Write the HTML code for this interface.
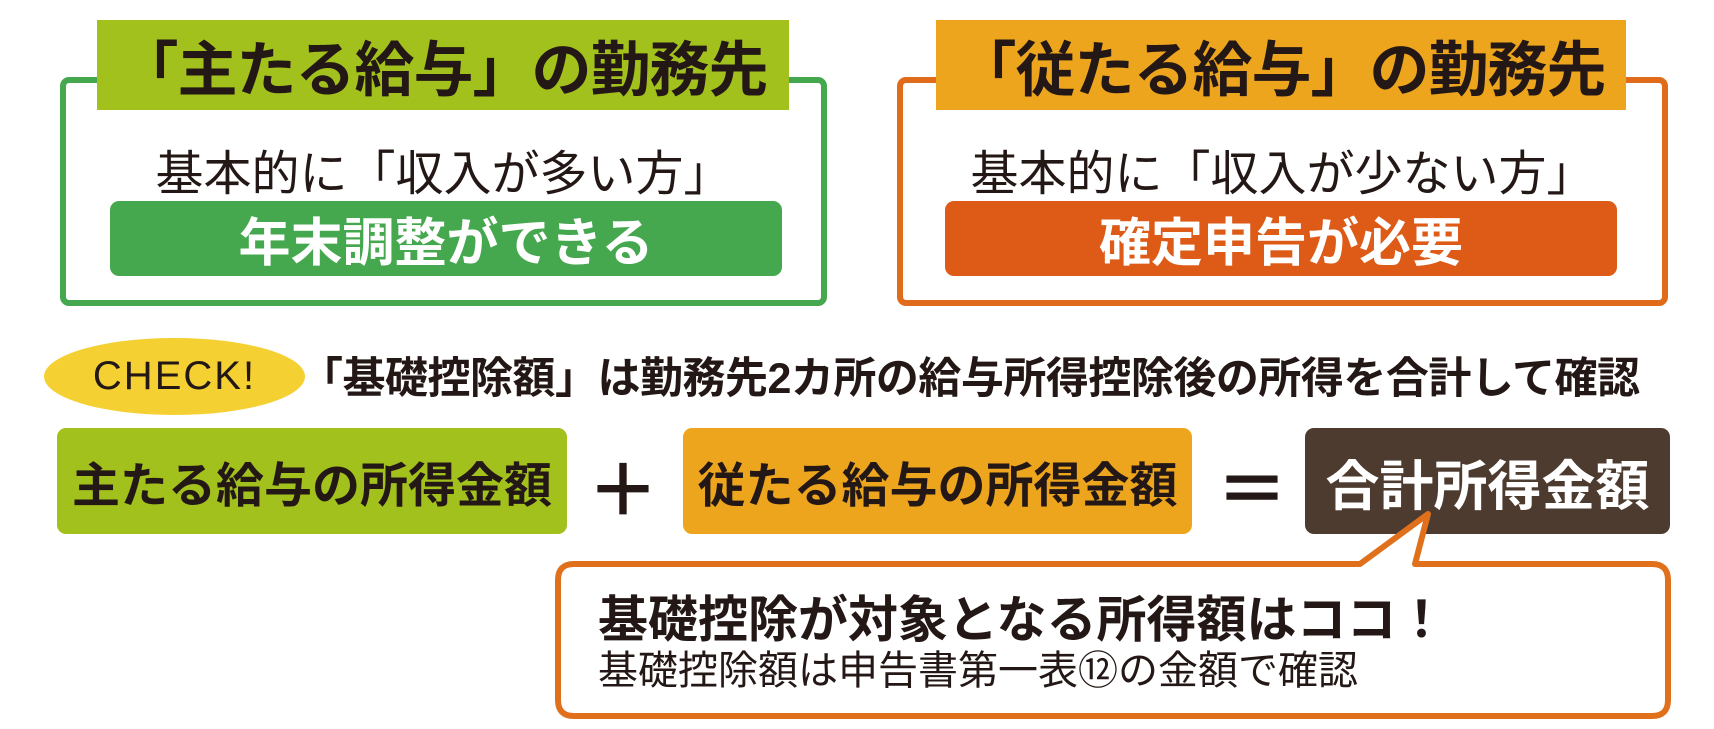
<!DOCTYPE html>
<html><head><meta charset="utf-8"><style>
body{margin:0;width:1714px;height:729px;background:#fff;position:relative;overflow:hidden;font-family:"Liberation Sans","Noto Sans CJK JP",sans-serif;color:#231815}
div{position:absolute;box-sizing:border-box}
.c{display:flex;align-items:center;justify-content:center;white-space:nowrap}
</style></head><body>
<div style="left:60px;top:77px;width:767px;height:229px;border:6px solid #45a84f;border-radius:9px"></div>
<div class="c" style="left:97px;top:20px;width:692px;height:90px;background:#a3c11d;font-size:60px;font-weight:bold;letter-spacing:-1px">「主たる給与」の勤務先</div>
<div class="c" style="left:60px;top:141px;width:767px;height:55px;font-size:48px">基本的に「収入が多い方」</div>
<div class="c" style="left:110px;top:201px;width:672px;height:75px;background:#45a84f;border-radius:9px;color:#fff;font-size:52px;font-weight:bold">年末調整ができる</div>

<div style="left:897px;top:77px;width:771px;height:229px;border:6px solid #e06b1b;border-radius:9px"></div>
<div class="c" style="left:936px;top:20px;width:690px;height:90px;background:#eda51e;font-size:60px;font-weight:bold;letter-spacing:-1px">「従たる給与」の勤務先</div>
<div class="c" style="left:897px;top:141px;width:771px;height:55px;font-size:48px">基本的に「収入が少ない方」</div>
<div class="c" style="left:945px;top:201px;width:672px;height:75px;background:#dd5a17;border-radius:9px;color:#fff;font-size:52px;font-weight:bold">確定申告が必要</div>

<div class="c" style="left:44px;top:338px;width:261px;height:77px;background:#f5d033;border-radius:50%;font-size:40px;letter-spacing:2px;font-weight:500">CHECK!</div>
<div style="left:300px;top:350px;font-size:43px;font-weight:bold;white-space:nowrap;line-height:58px;letter-spacing:-0.5px">「基礎控除額」は勤務先2カ所の給与所得控除後の所得を合計して確認</div>

<div class="c" style="left:57px;top:428px;width:510px;height:106px;background:#a3c11d;border-radius:9px;font-size:48px;font-weight:bold">主たる給与の所得金額</div>
<div class="c" style="left:588px;top:440px;width:70px;height:88px;font-size:72px;font-weight:bold">＋</div>
<div class="c" style="left:683px;top:428px;width:509px;height:106px;background:#eda51e;border-radius:9px;font-size:48px;font-weight:bold">従たる給与の所得金額</div>
<div class="c" style="left:1217px;top:440px;width:70px;height:88px;font-size:72px;font-weight:bold">＝</div>
<div class="c" style="left:1305px;top:428px;width:365px;height:106px;background:#4e3b30;border-radius:9px;color:#fff;font-size:54px;font-weight:bold">合計所得金額</div>

<svg style="position:absolute;left:0;top:0" width="1714" height="729">
<path d="M574,564 H1360 L1428,514 L1415,564 H1652 Q1668,564 1668,580 V700 Q1668,716 1652,716 H574 Q558,716 558,700 V580 Q558,564 574,564 Z" fill="#fff" stroke="#e0701b" stroke-width="6" stroke-linejoin="round"/>
</svg>
<div style="left:598px;top:590px;font-size:50px;font-weight:bold;white-space:nowrap;line-height:60px">基礎控除が対象となる所得額はココ！</div>
<div style="left:598px;top:648px;font-size:40px;white-space:nowrap;line-height:46px">基礎控除額は申告書第一表⑫の金額で確認</div>
</body></html>
